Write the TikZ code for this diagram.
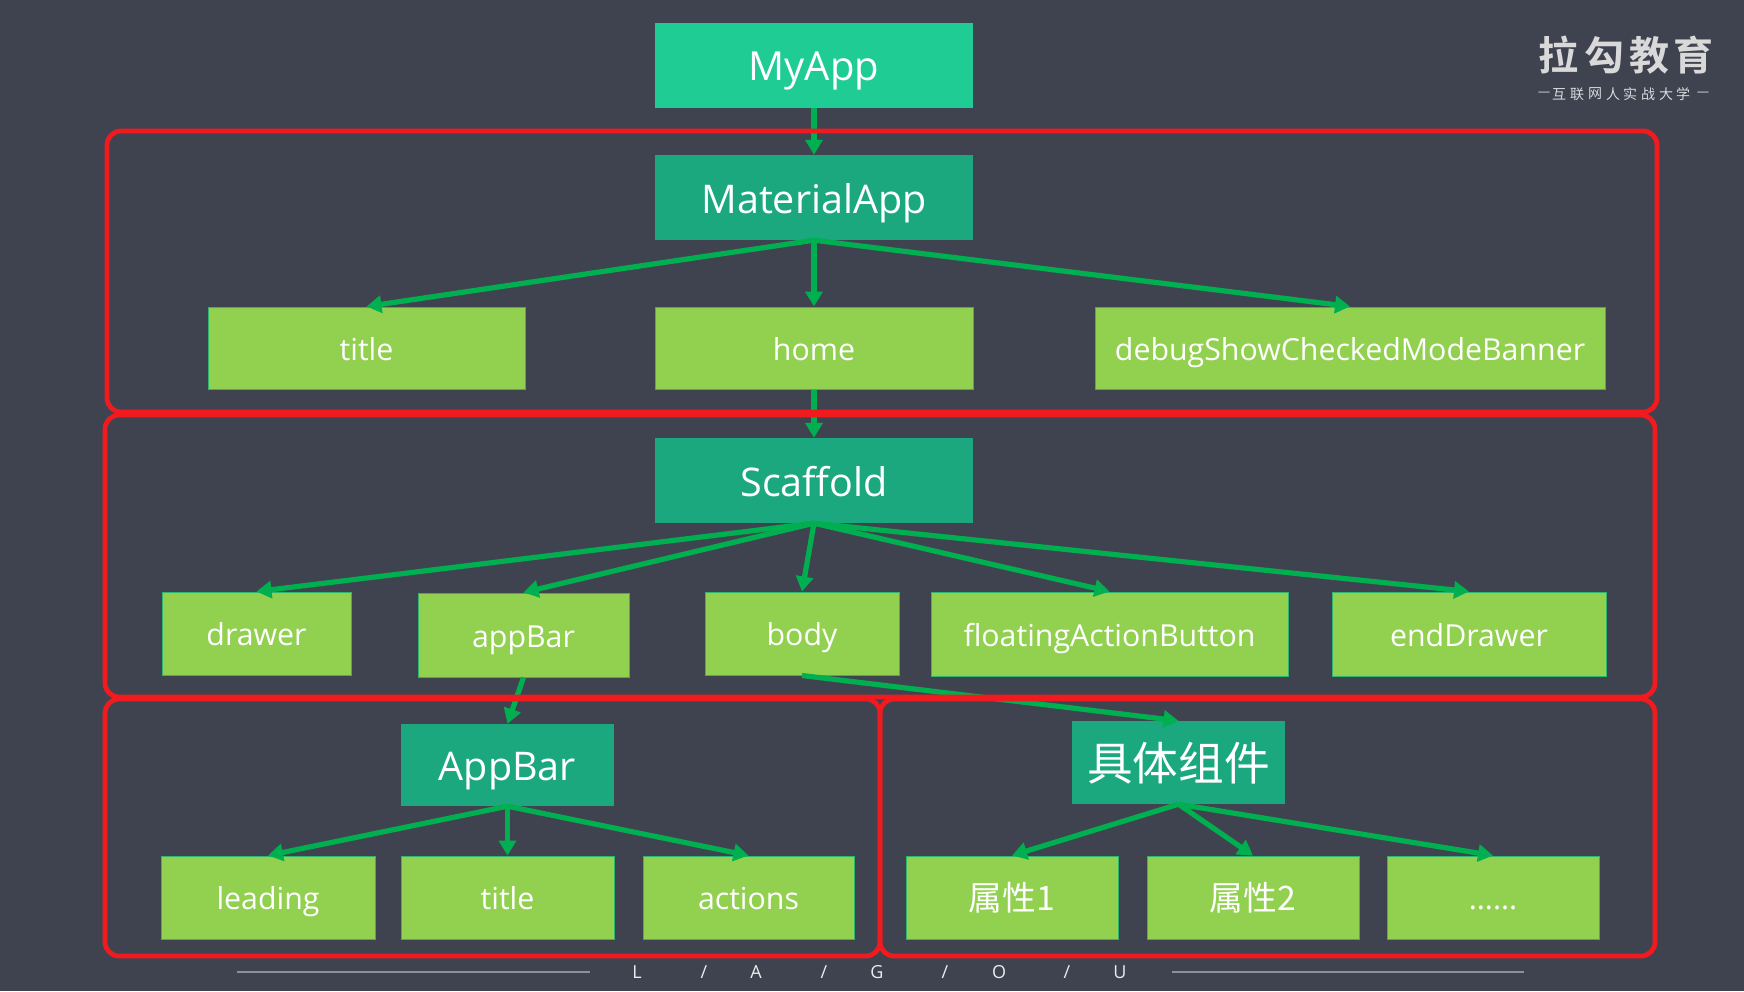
\documentclass[tikz,border=0pt]{standalone}
\usepackage{fontspec}
\setmainfont{Open Sans}
\newfontfamily\cjk{Noto Sans CJK SC}
\newfontfamily\cjkbold{Noto Sans CJK SC Bold}
\usetikzlibrary{arrows.meta}
\definecolor{slate}{HTML}{3F4350}
\definecolor{rootgreen}{HTML}{1FCC94}
\definecolor{hubgreen}{HTML}{1BA87F}
\definecolor{leafgreen}{HTML}{92D050}
\definecolor{leafedge}{HTML}{2FB56F}
\definecolor{linkgreen}{HTML}{00B050}
\definecolor{framered}{HTML}{F01A1F}
\definecolor{footgray}{HTML}{8E9097}
\tikzset{
  x=1pt, y=-1pt,
  block/.style={draw=none, inner sep=0pt, text=white, anchor=center},
  rootbox/.style={block, fill=rootgreen, text height=38pt, text depth=8pt, font=\fontsize{40}{44}\selectfont},
  hubbox/.style={block, fill=hubgreen, text height=39pt, text depth=8pt, font=\fontsize{39.5}{44}\selectfont},
  leafbox/.style={block, fill=leafgreen, draw=leafedge, line width=1pt, text height=30pt, text depth=6pt, font=\fontsize{30.3}{34}\selectfont},
  bigcjk/.style={text height=46pt, text depth=11pt},
  smallcjk/.style={text height=34pt, text depth=8.4pt},
  link/.style={draw=linkgreen, line width=5.2pt, -{Triangle[length=15pt,width=17pt]}},
  frame/.style={draw=framered, line width=4.8pt, rounded corners=14pt},
  footletter/.style={inner sep=0pt, text=white!90!slate, font=\fontsize{18}{20}\selectfont},
  footrule/.style={draw=footgray, line width=1.6pt},
  logobig/.style={inner sep=0pt, text=white!85!black, font=\cjkbold\fontsize{40}{42}\selectfont},
  logosmall/.style={inner sep=0pt, text=white!80!slate, font=\cjk\fontsize{14}{16}\selectfont}
}
% places a box of given corners (x0,y0)-(x1,y1)
\newcommand{\boxat}[7]{%
  \node[#1, minimum width=#4pt-#3pt, minimum height=#6pt-#5pt] (#2) at ({(#3+#4)/2},{(#5+#6)/2}) {#7};}
\begin{document}
\begin{tikzpicture}
\fill[slate] (0,0) rectangle (1744,991);
\useasboundingbox (0,0) rectangle (1744,991);

% top-level chain
\boxat{rootbox}{myapp}{655}{973}{23}{108}{MyApp}
\boxat{hubbox}{material}{655}{973}{155}{240}{MaterialApp}
\boxat{leafbox}{mtitle}{208}{525}{307}{389}{title}
\boxat{leafbox}{home}{655}{973}{307}{389}{home}
\boxat{leafbox}{debug}{1095}{1605}{307}{389}{debugShowCheckedModeBanner}

% Scaffold level
\boxat{hubbox}{scaffold}{655}{973}{438}{523}{Scaffold}
\boxat{leafbox}{drawer}{162}{351}{592}{675}{drawer}
\boxat{leafbox}{appbarprop}{418}{629}{593}{677}{appBar}
\boxat{leafbox}{body}{705}{899}{592}{675}{body}
\boxat{leafbox}{fab}{931}{1288}{592}{676}{floatingActionButton}
\boxat{leafbox}{enddrawer}{1332}{1606}{592}{676}{endDrawer}

% AppBar branch
\boxat{hubbox}{appbar}{401}{614}{724}{806}{AppBar}
\boxat{leafbox}{leading}{161}{375}{856}{939}{leading}
\boxat{leafbox}{atitle}{401}{614}{856}{939}{title}
\boxat{leafbox}{actions}{643}{854}{856}{939}{actions}

% widget branch
\boxat{hubbox,bigcjk}{widget}{1072}{1285}{721}{804}{\cjk\fontsize{45.7}{50}\selectfont 具体组件}
\boxat{leafbox,smallcjk}{propa}{906}{1118}{856}{939}{\cjk\fontsize{33.7}{36}\selectfont 属性1}
\boxat{leafbox,smallcjk}{propb}{1147}{1359}{856}{939}{\cjk\fontsize{33.7}{36}\selectfont 属性2}
\boxat{leafbox}{propc}{1387}{1599}{856}{939}{......}

% connectors
\draw[link] (myapp.south) -- (material.north);
\draw[link] (material.south) -- (mtitle.north);
\draw[link] (material.south) -- (home.north);
\draw[link] (material.south) -- (debug.north);
\draw[link] (home.south) -- (scaffold.north);
\draw[link] (scaffold.south) -- (drawer.north);
\draw[link] (scaffold.south) -- (appbarprop.north);
\draw[link] (scaffold.south) -- (body.north);
\draw[link] (scaffold.south) -- (fab.north);
\draw[link] (scaffold.south) -- (enddrawer.north);
\draw[link] (appbarprop.south) -- (appbar.north);
\draw[link] (appbar.south) -- (leading.north);
\draw[link] (appbar.south) -- (atitle.north);
\draw[link] (appbar.south) -- (actions.north);
\draw[link] (body.south) -- (widget.north);
\draw[link] (widget.south) -- (propa.north);
\draw[link] (widget.south) -- (propb.north);
\draw[link] (widget.south) -- (propc.north);

% grouping frames
\draw[frame] (107,131) rectangle (1657,412);
\draw[frame] (105,415) rectangle (1655,697);
\draw[frame] (105,699) rectangle (880,956);
\draw[frame] (880,699) rectangle (1655,956);

% footer wordmark
\draw[footrule] (237,972) -- (590,972);
\draw[footrule] (1172,972) -- (1524,972);
\node[footletter] (fl) at (637,972) {L};
\node[footletter] (fs1) at (704,972) {/};
\node[footletter] (fa) at (756,972) {A};
\node[footletter] (fs2) at (824,972) {/};
\node[footletter] (fg) at (877,972) {G};
\node[footletter] (fs3) at (945,972) {/};
\node[footletter] (fo) at (999,972) {O};
\node[footletter] (fs4) at (1067,972) {/};
\node[footletter] (fu) at (1120,972) {U};

% brand mark
\node[logobig] (la) at (1558,55) {拉};
\node[logobig] (gou) at (1604,55) {勾};
\node[logobig] (jiao) at (1649,55) {教};
\node[logobig] (yu) at (1693,55) {育};
\node[logosmall] (d1) at (1544,94) {—};
\node[logosmall] (s1) at (1559,94) {互};
\node[logosmall] (s2) at (1577,94) {联};
\node[logosmall] (s3) at (1595,94) {网};
\node[logosmall] (s4) at (1613,94) {人};
\node[logosmall] (s5) at (1630,94) {实};
\node[logosmall] (s6) at (1648,94) {战};
\node[logosmall] (s7) at (1666,94) {大};
\node[logosmall] (s8) at (1683,94) {学};
\node[logosmall] (d2) at (1703,94) {—};
\end{tikzpicture}
\end{document}
